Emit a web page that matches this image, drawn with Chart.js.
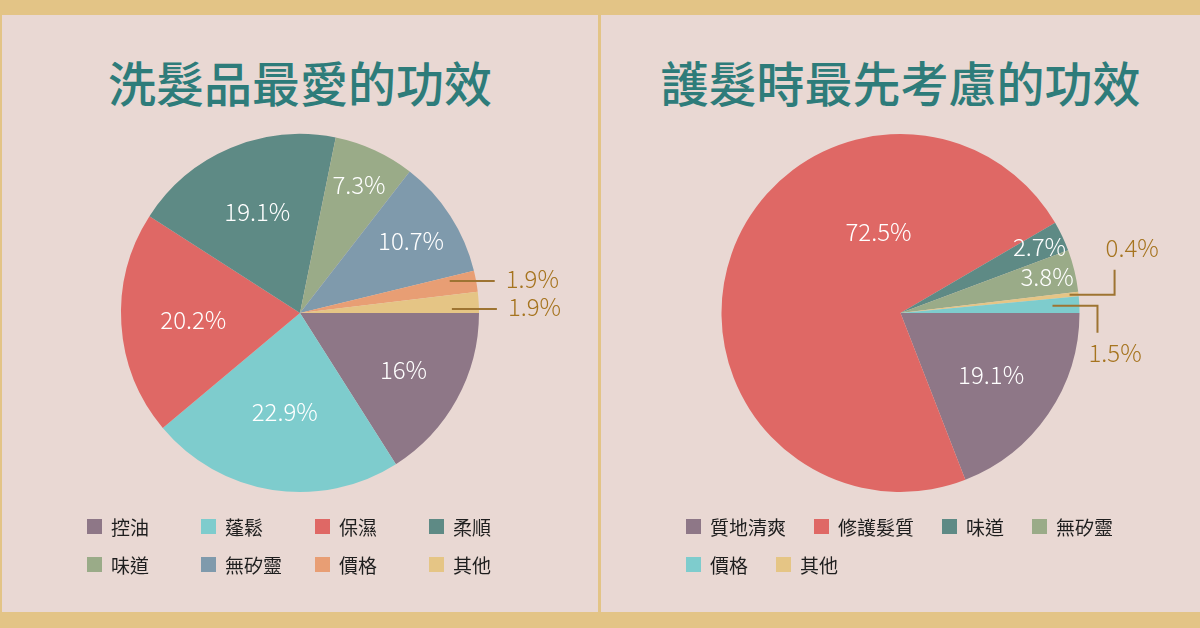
<!DOCTYPE html>
<html><head><meta charset="utf-8">
<script src="https://cdn.jsdelivr.net/npm/chart.js@4.4.1/dist/chart.umd.min.js"></script>
<style>
html,body{margin:0;padding:0;}
body{width:1200px;height:628px;background:#E3C486;position:relative;overflow:hidden;font-family:"Noto Sans CJK TC","Noto Sans CJK SC",sans-serif;}
.panel{position:absolute;top:15px;height:597px;background:#E9D8D3;}
#p1{left:2px;width:596px;}
#p2{left:601px;width:599px;}
.title{position:absolute;left:0;right:0;top:42px;text-align:center;color:#2E7C7A;font-size:48px;font-weight:500;line-height:48px;white-space:nowrap;}
canvas{position:absolute;left:0;top:98px;}
.legend{position:absolute;left:85px;top:492px;font-size:19px;color:#1E1E1E;}
#lg1{display:grid;grid-template-columns:repeat(4,114px);grid-auto-rows:38px;}
#lg2{display:flex;flex-wrap:wrap;width:440px;column-gap:28px;}
#lg2 .item{height:38px;}
.item{display:flex;align-items:center;white-space:nowrap;}
.box{width:15px;height:15px;margin-right:9px;flex:none;}
</style>
</head><body>
<div class="panel" id="p1">
  <div class="title" id="t1"></div>
  <canvas id="c1" width="596" height="400"></canvas>
  <div class="legend" id="lg1"></div>
</div>
<div class="panel" id="p2">
  <div class="title" id="t2"></div>
  <canvas id="c2" width="599" height="400"></canvas>
  <div class="legend" id="lg2"></div>
</div>
<script>
// ---- data ----
const leftTitle = "洗髮品最愛的功效";
const leftCategories = ["控油","蓬鬆","保濕","柔順","味道","無矽靈","價格","其他"];
const leftValues = [16, 22.9, 20.2, 19.1, 7.3, 10.7, 1.9, 1.9];
const leftColors = ["#8E7787","#7ECCCD","#DF6865","#5E8A85","#9AAB88","#7F9AAC","#E89E74","#E5C585"];

const rightTitle = "護髮時最先考慮的功效";
const rightCategories = ["質地清爽","修護髮質","味道","無矽靈","價格","其他"];
const rightValues = [19.1, 72.5, 2.7, 3.8, 1.5, 0.4];
const rightColors = ["#8E7787","#DF6865","#5E8A85","#9AAB88","#7ECCCD","#E5C585"];
// slice drawing order (clockwise from 3 o'clock) as indices into the right arrays
const rightDrawOrder = [0, 1, 2, 3, 5, 4];

// ---- label plugin ----
const pieLabels = {
  id: 'pieLabels',
  afterDatasetsDraw(chart, args, opts) {
    const ctx = chart.ctx;
    const meta = chart.getDatasetMeta(0);
    const data = chart.data.datasets[0].data;
    const total = data.reduce((a, b) => a + b, 0);
    const outer = [];
    ctx.save();
    ctx.font = '300 24px "Noto Sans CJK TC", "Noto Sans", sans-serif';
    ctx.textBaseline = 'middle';
    const TAU = Math.PI * 2;
    meta.data.forEach((arc, i) => {
      const p = arc.getProps(['x', 'y', 'startAngle', 'endAngle', 'outerRadius'], true);
      const pct = data[i] / total * 100;
      let mid = (p.startAngle + p.endAngle) / 2;
      const txt = String(data[i]) + '%';
      if (pct < 2) {
        outer.push({txt, mid, cx: p.x, cy: p.y, R: p.outerRadius});
        return;
      }
      let f = Math.min(0.88, Math.max(0.55, 0.9 - 0.015 * pct));
      if (pct > 50) {
        // large slice: put the label in the middle of its upper part
        let s = ((p.startAngle % TAU) + TAU) % TAU, e = s + (p.endAngle - p.startAngle);
        const a0 = Math.max(s, Math.PI), a1 = Math.min(e, TAU);
        if (a1 > a0) mid = (a0 + a1) / 2;
        f = 0.47;
      }
      const r = p.outerRadius * f;
      ctx.fillStyle = '#FFFFFF';
      ctx.textAlign = 'center';
      ctx.fillText(txt, p.x + Math.cos(mid) * r, p.y + Math.sin(mid) * r);
    });
    ctx.strokeStyle = '#9E7432';
    ctx.fillStyle = '#A6741F';
    ctx.lineWidth = 2;
    ctx.textAlign = 'left';
    if (opts.elbow) {
      outer.sort((a, b) => Math.sin(a.mid) - Math.sin(b.mid));
      outer.forEach((o, k) => {
        const up = k < outer.length / 2;
        const r = o.R * (up ? 0.95 : 0.85);
        const x = o.cx + Math.cos(o.mid) * r, y = o.cy + Math.sin(o.mid) * r;
        const ex = x + 45;
        const vy = up ? y - 25 : y + 27;
        ctx.beginPath();
        ctx.moveTo(x, y); ctx.lineTo(ex, y); ctx.lineTo(ex, vy);
        ctx.stroke();
        ctx.fillText(o.txt, ex - 9, up ? vy - 22 : vy + 20);
      });
    } else {
      outer.forEach(o => {
        const r = o.R * 0.85;
        o.x = o.cx + Math.cos(o.mid) * r; o.y = o.cy + Math.sin(o.mid) * r;
      });
      outer.sort((a, b) => a.y - b.y);
      // spread labels vertically so they don't overlap
      const minGap = 28;
      for (let k = 1; k < outer.length; k++) {
        const d = outer[k].y - outer[k - 1].y;
        if (d < minGap) {
          const shift = (minGap - d) / 2;
          outer[k - 1].y -= shift; outer[k].y += shift;
        }
      }
      outer.forEach(o => {
        ctx.beginPath();
        ctx.moveTo(o.x, o.y); ctx.lineTo(o.x + 45, o.y);
        ctx.stroke();
        ctx.fillText(o.txt, o.x + 56, o.y - 2);
      });
    }
    ctx.restore();
  }
};

function makeChart(id, labels, values, colors, elbow) {
  return new Chart(document.getElementById(id), {
    type: 'pie',
    data: { labels, datasets: [{ data: values, backgroundColor: colors, borderWidth: 0 }] },
    options: {
      responsive: false,
      animation: false,
      rotation: 90,
      layout: { padding: { top: 21, bottom: 21 } },
      plugins: { legend: { display: false }, tooltip: { enabled: false }, pieLabels: { elbow } }
    },
    plugins: [pieLabels]
  });
}

function buildLegend(elId, labels, colors) {
  const el = document.getElementById(elId);
  labels.forEach((l, i) => {
    const it = document.createElement('div');
    it.className = 'item';
    const b = document.createElement('span');
    b.className = 'box';
    b.style.background = colors[i];
    const t = document.createElement('span');
    t.textContent = l;
    it.appendChild(b); it.appendChild(t);
    el.appendChild(it);
  });
}

document.getElementById('t1').textContent = leftTitle;
document.getElementById('t2').textContent = rightTitle;

makeChart('c1', leftCategories, leftValues, leftColors, false);
makeChart('c2',
  rightDrawOrder.map(i => rightCategories[i]),
  rightDrawOrder.map(i => rightValues[i]),
  rightDrawOrder.map(i => rightColors[i]),
  true);

buildLegend('lg1', leftCategories, leftColors);
buildLegend('lg2', rightCategories, rightColors);
</script>
</body></html>
